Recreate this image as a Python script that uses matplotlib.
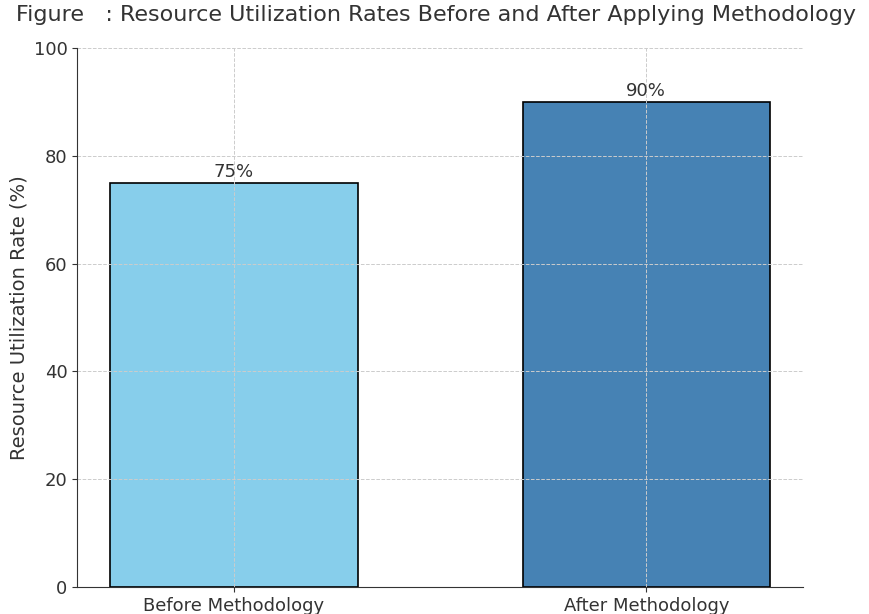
import matplotlib
matplotlib.use("Agg")
import matplotlib.pyplot as plt

categories = ["Before Methodology", "After Methodology"]
rates = [75, 90]
colors = ["skyblue", "steelblue"]

fig = plt.figure(figsize=(8.69, 6.14), dpi=100)
ax = fig.add_axes([0.089, 0.044, 0.835, 0.878])

bars = ax.bar(categories, rates, width=0.6, color=colors, edgecolor="black", linewidth=1.2)
for b, v in zip(bars, rates):
    ax.text(b.get_x() + b.get_width() / 2, v + 0.4, f"{v}%", ha="center", va="bottom",
            fontsize=13, color="#333333")

ax.set_ylim(0, 100)
ax.set_ylabel("Resource Utilization Rate (%)", fontsize=14, color="#333333")
ax.set_title("Figure   : Resource Utilization Rates Before and After Applying Methodology",
             fontsize=16, color="#333333", pad=19.5, x=0.494)
ax.tick_params(labelsize=13, colors="#333333")
ax.grid(True, linestyle="--", color="#cccccc", linewidth=0.7)
for s in ["top", "right"]:
    ax.spines[s].set_visible(False)
for s in ["left", "bottom"]:
    ax.spines[s].set_color("#333333")

fig.savefig("out.png", dpi=100)
